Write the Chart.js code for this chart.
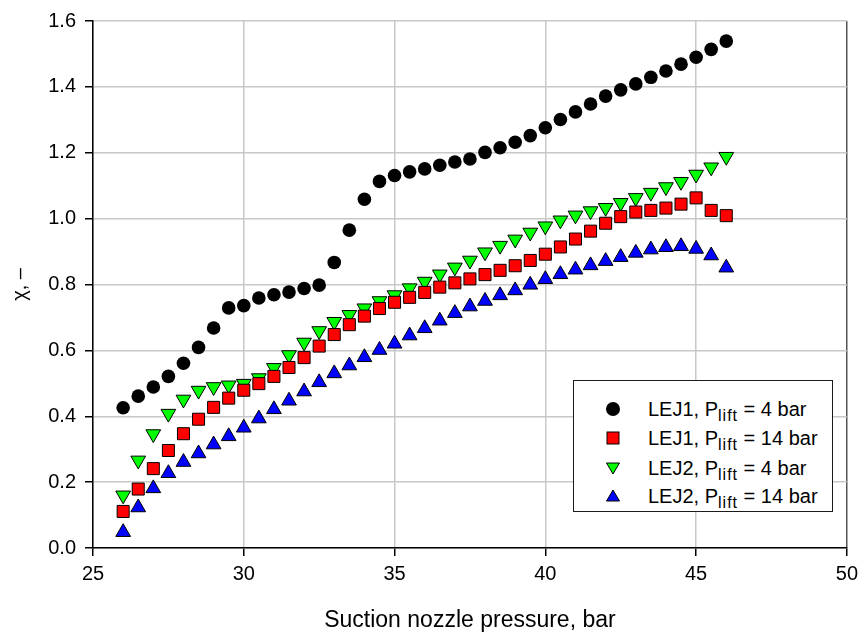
<!DOCTYPE html>
<html>
<head>
<meta charset="utf-8">
<script src="https://cdn.jsdelivr.net/npm/chart.js@4.4.1/dist/chart.umd.min.js"></script>
<style>
  body { margin: 0; background: #fff; font-family: Arial, "Liberation Sans", sans-serif; }
  #wrap { position: relative; width: 864px; height: 637px; }
  #legenda {
    position: absolute; left: 573px; top: 380px; width: 260px; height: 132px;
    box-sizing: border-box; border: 1.5px solid #1a1a1a; background: #fff;
  }
  .linha { position: absolute; left: 0; height: 29px; line-height: 29px; width: 100%; font-size: 20px; color: #000; white-space: nowrap; }
  .linha svg { position: absolute; left: 31px; top: 6px; }
  .linha span { position: absolute; left: 74px; }
  .linha sub { font-size: 16px; letter-spacing: 1px; vertical-align: -5px; line-height: 0; }
</style>
</head>
<body>
<div id="wrap">
  <canvas id="grafico" width="864" height="637"></canvas>
  <div id="legenda"></div>
</div>
<script>
// Pressão na sucção (bar)
const pressao = [26, 26.5, 27, 27.5, 28, 28.5, 29, 29.5, 30, 30.5, 31, 31.5, 32, 32.5, 33, 33.5, 34, 34.5, 35, 35.5,
  36, 36.5, 37, 37.5, 38, 38.5, 39, 39.5, 40, 40.5, 41, 41.5, 42, 42.5, 43, 43.5, 44, 44.5, 45, 45.5, 46];

// chi para cada ejetor / pressão de lift
const lej1_4bar = [0.426, 0.461, 0.489, 0.521, 0.561, 0.609, 0.668, 0.729, 0.736, 0.759, 0.769, 0.777, 0.788, 0.798,
  0.867, 0.965, 1.059, 1.113, 1.131, 1.142, 1.151, 1.162, 1.172, 1.181, 1.201, 1.215, 1.232, 1.252, 1.276, 1.301,
  1.324, 1.348, 1.372, 1.391, 1.409, 1.429, 1.448, 1.469, 1.490, 1.514, 1.539];
const lej1_14bar = [0.111, 0.179, 0.241, 0.296, 0.347, 0.391, 0.427, 0.455, 0.479, 0.499, 0.521, 0.548, 0.578, 0.613,
  0.648, 0.678, 0.704, 0.727, 0.746, 0.761, 0.776, 0.792, 0.805, 0.817, 0.830, 0.843, 0.857, 0.873, 0.892, 0.914,
  0.938, 0.962, 0.986, 1.006, 1.020, 1.025, 1.032, 1.044, 1.063, 1.025, 1.009];
const lej2_4bar = [0.160, 0.266, 0.346, 0.408, 0.451, 0.478, 0.489, 0.494, 0.499, 0.516, 0.547, 0.586, 0.624, 0.659,
  0.687, 0.708, 0.728, 0.750, 0.768, 0.789, 0.809, 0.831, 0.852, 0.873, 0.898, 0.918, 0.937, 0.958, 0.977, 0.995,
  1.010, 1.023, 1.033, 1.048, 1.063, 1.079, 1.096, 1.112, 1.134, 1.156, 1.188];
const lej2_14bar = [0.048, 0.123, 0.181, 0.227, 0.261, 0.287, 0.314, 0.339, 0.365, 0.393, 0.421, 0.447, 0.475, 0.503,
  0.530, 0.554, 0.579, 0.601, 0.620, 0.645, 0.667, 0.690, 0.713, 0.733, 0.750, 0.767, 0.782, 0.799, 0.816, 0.831,
  0.845, 0.858, 0.871, 0.883, 0.896, 0.906, 0.913, 0.916, 0.908, 0.888, 0.851];

const ticksX = [25, 30, 35, 40, 45, 50];
const ticksY = [0, 0.2, 0.4, 0.6, 0.8, 1.0, 1.2, 1.4, 1.6];

const series = [
  { nome: 'LEJ1', lift: '4', valores: lej1_4bar, cor: '#000000', estilo: 'circle', raio: 6.8, rot: 0 },
  { nome: 'LEJ1', lift: '14', valores: lej1_14bar, cor: '#ff0000', estilo: 'rect', raio: 8.5, rot: 0 },
  { nome: 'LEJ2', lift: '4', valores: lej2_4bar, cor: '#00ff00', estilo: 'triangle', raio: 8.5, rot: 180 },
  { nome: 'LEJ2', lift: '14', valores: lej2_14bar, cor: '#0000ff', estilo: 'triangle', raio: 8.5, rot: 0 }
];

const fonte = 'Arial, "Liberation Sans", sans-serif';

const datasets = series.map(s => ({
  label: s.nome + ', Plift = ' + s.lift + ' bar',
  data: pressao.map((p, i) => ({ x: p, y: s.valores[i] })),
  pointStyle: s.estilo,
  pointRadius: s.raio,
  pointRotation: s.rot,
  backgroundColor: s.cor,
  borderColor: '#000',
  borderWidth: s.estilo === 'circle' ? 0 : 1,
  showLine: false
}));

new Chart(document.getElementById('grafico'), {
  type: 'scatter',
  data: { datasets: datasets },
  options: {
    responsive: false,
    animation: false,
    layout: { padding: { top: 18, right: 14, left: 0, bottom: 0 } },
    plugins: { legend: { display: false }, tooltip: { enabled: false } },
    scales: {
      x: {
        type: 'linear', min: 25, max: 50,
        afterBuildTicks: axis => { axis.ticks = ticksX.map(v => ({ value: v })); },
        afterFit: axis => { axis.height = 89; },
        grid: {
          color: ctx => (ctx.tick && ctx.tick.value === 50 ? '#555' : '#c8c8c8'),
          lineWidth: 1.5, tickLength: 8, tickColor: '#000', tickWidth: 1.5
        },
        border: { color: '#000', width: 1.5 },
        ticks: { color: '#000', padding: 6, font: { family: fonte, size: 20 } },
        title: {
          display: true, text: 'Suction nozzle pressure, bar', color: '#000',
          font: { family: fonte, size: 23 }, padding: { top: 0, bottom: 3 }
        }
      },
      y: {
        min: 0, max: 1.6,
        afterBuildTicks: axis => { axis.ticks = ticksY.map(v => ({ value: v })); },
        afterFit: axis => { axis.width = 93; },
        grid: { color: '#c8c8c8', lineWidth: 1.5, tickLength: 8, tickColor: '#000', tickWidth: 1.5 },
        border: { color: '#000', width: 1.5 },
        ticks: { color: '#000', padding: 9, font: { family: fonte, size: 20 }, callback: v => v.toFixed(1) },
        title: {
          display: true, text: 'χ, –', color: '#000',
          font: { family: fonte, size: 20 }, padding: { top: 8, bottom: 0 }
        }
      }
    }
  }
});

// Legenda em HTML (subscrito "lift")
const legenda = document.getElementById('legenda');
const simbolos = {
  circle: c => `<circle cx="8" cy="8" r="7" fill="${c}"/>`,
  rect: c => `<rect x="2" y="2" width="12" height="12" fill="${c}" stroke="#000" stroke-width="1"/>`,
  baixo: c => `<polygon points="1.5,3 14.5,3 8,14" fill="${c}" stroke="#000" stroke-width="1"/>`,
  cima: c => `<polygon points="8,2 14.5,13 1.5,13" fill="${c}" stroke="#000" stroke-width="1"/>`
};
const centros = [30, 59, 89, 117];
series.forEach((s, i) => {
  const tipo = s.estilo === 'triangle' ? (s.rot ? 'baixo' : 'cima') : s.estilo;
  const div = document.createElement('div');
  div.className = 'linha';
  div.style.top = (centros[i] - 14.5 - 1.5) + 'px';
  div.innerHTML = `<svg width="16" height="16">${simbolos[tipo](s.cor)}</svg>` +
    `<span>${s.nome}, P<sub>lift</sub> = ${s.lift} bar</span>`;
  legenda.appendChild(div);
});
</script>
</body>
</html>
